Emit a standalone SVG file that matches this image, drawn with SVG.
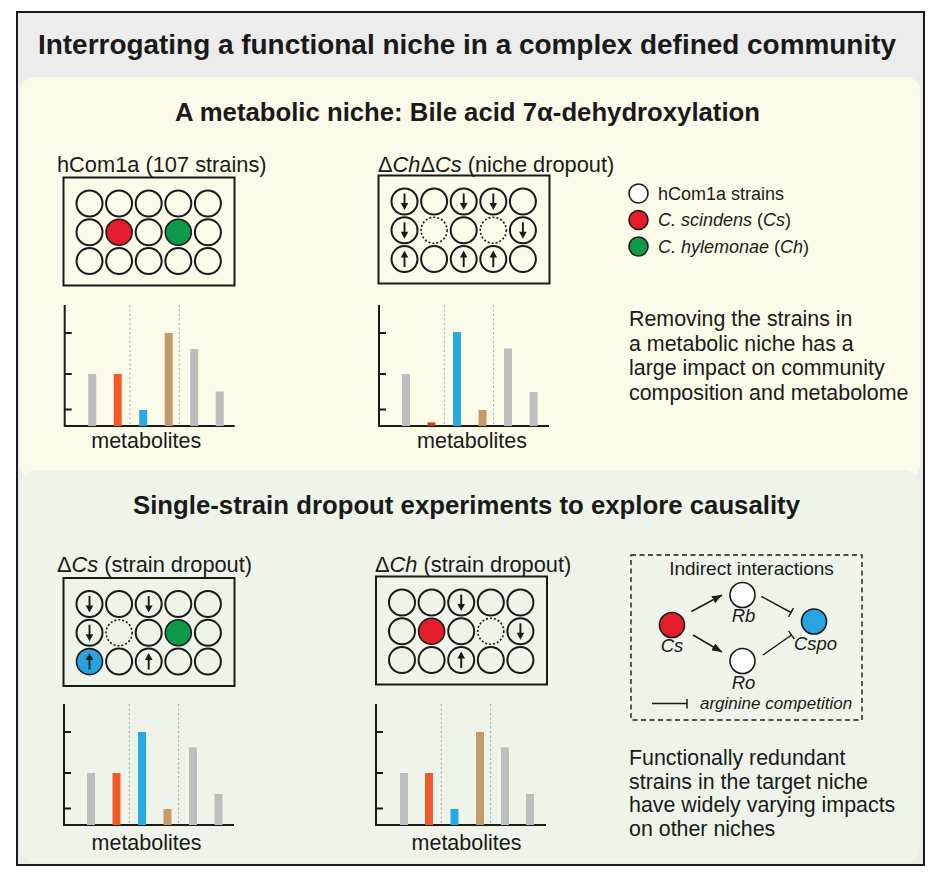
<svg xmlns="http://www.w3.org/2000/svg" width="940" height="884" viewBox="0 0 940 884">
<style>
text{font-family:"Liberation Sans",Arial,sans-serif;fill:#1a1a1a}
.ttl{font-family:"Liberation Sans Narrow","Liberation Sans",Arial,sans-serif;font-weight:bold;text-anchor:middle}
.lab{font-size:21.8px}
.body{font-size:21.4px}
.leg{font-size:18px}
.met{font-size:21.5px;text-anchor:middle}
.plate{fill:none;stroke:#1a1a1a;stroke-width:2}
.c{fill:none;stroke:#1a1a1a;stroke-width:2}
.dot{fill:none;stroke:#1a1a1a;stroke-width:1.6;stroke-dasharray:2 2}
.axis{stroke:#1a1a1a;stroke-width:2;fill:none}
.grid{stroke:#a9a9a9;stroke-width:1;stroke-dasharray:2 2.5}
.gy{fill:#bdbdbf}.or{fill:#f15a29}.bl{fill:#27a9e1}.br{fill:#c4996c}.dr{fill:#c8371f}
.red{fill:#e31d2b;stroke:#1a1a1a;stroke-width:1.6}
.grn{fill:#0f9a4a;stroke:#1a1a1a;stroke-width:1.6}
.blu{fill:#27a4df;stroke:#1a1a1a;stroke-width:1.6}
.wht{fill:#ffffff;stroke:#1a1a1a;stroke-width:1.6}
.edge{stroke:#1a1a1a;stroke-width:1.5;fill:none}
</style>
<defs>
<g id="dn"><line x1="0" y1="-8" x2="0" y2="3" stroke="#1a1a1a" stroke-width="1.9"/><path d="M-3.8,1.5 L3.8,1.5 L0,8.5 Z" fill="#1a1a1a"/></g>
<g id="up"><line x1="0" y1="8" x2="0" y2="-3" stroke="#1a1a1a" stroke-width="1.9"/><path d="M-3.8,-1.5 L3.8,-1.5 L0,-8.5 Z" fill="#1a1a1a"/></g>
<marker id="arr" viewBox="0 0 10 8" refX="10" refY="4" markerWidth="10" markerHeight="8" markerUnits="userSpaceOnUse" orient="auto"><path d="M0,0 L10,4 L0,8 Z" fill="#1a1a1a"/></marker>
<marker id="tee" viewBox="0 0 2 10" refX="1" refY="5" markerWidth="2" markerHeight="10" markerUnits="userSpaceOnUse" orient="auto"><path d="M1,0 V10" stroke="#1a1a1a" stroke-width="1.5"/></marker>
<g id="axes">
<path class="axis" d="M0,-121 V0 H170"/>
<path class="axis" d="M0,-93 H7 M0,-52 H7 M0,-16.5 H7"/>
<line class="grid" x1="65.3" y1="-121" x2="65.3" y2="0"/>
<line class="grid" x1="114.6" y1="-121" x2="114.6" y2="0"/>
</g>
<g id="plate">
<rect class="plate" x="0" y="0" width="171" height="108"/>
</g>
</defs>

<!-- backgrounds -->
<rect x="17" y="12" width="907" height="853" fill="#ececed"/>
<rect x="20" y="77" width="900" height="402" rx="14" fill="#fcfae9"/>
<rect x="20" y="470" width="900" height="393" rx="16" fill="#eef4e9"/>
<rect x="17" y="12" width="907" height="853" fill="none" stroke="#1a1a1a" stroke-width="2"/>

<text class="ttl" x="467" y="54" font-size="27.8" textLength="858" lengthAdjust="spacingAndGlyphs">Interrogating a functional niche in a complex defined community</text>
<text class="ttl" x="467.5" y="121" font-size="26" textLength="585" lengthAdjust="spacingAndGlyphs">A metabolic niche: Bile acid 7α-dehydroxylation</text>
<text class="ttl" x="466.5" y="514" font-size="26" textLength="667" lengthAdjust="spacingAndGlyphs">Single-strain dropout experiments to explore causality</text>

<!-- Panel 1: hCom1a -->
<g id="hcom1a">
<text class="lab" x="57" y="172">hCom1a (107 strains)</text>
<g transform="translate(63.5,177.5)">
<use href="#plate"/>
<g transform="translate(26,26)">
<circle class="c" cx="0" cy="0" r="13"/><circle class="c" cx="29.6" cy="0" r="13"/><circle class="c" cx="59.2" cy="0" r="13"/><circle class="c" cx="88.8" cy="0" r="13"/><circle class="c" cx="118.4" cy="0" r="13"/>
<circle class="c" cx="0" cy="28.8" r="13"/><circle class="red" cx="29.6" cy="28.8" r="13"/><circle class="c" cx="59.2" cy="28.8" r="13"/><circle class="grn" cx="88.8" cy="28.8" r="13"/><circle class="c" cx="118.4" cy="28.8" r="13"/>
<circle class="c" cx="0" cy="57.6" r="13"/><circle class="c" cx="29.6" cy="57.6" r="13"/><circle class="c" cx="59.2" cy="57.6" r="13"/><circle class="c" cx="88.8" cy="57.6" r="13"/><circle class="c" cx="118.4" cy="57.6" r="13"/>
</g>
</g>
</g>
<g id="chart1" transform="translate(64.7,426)">
<use href="#axes"/>
<rect class="gy" x="23.5" y="-52" width="8" height="52"/>
<rect class="or" x="49" y="-52" width="8" height="52"/>
<rect class="bl" x="74.5" y="-16" width="8" height="16"/>
<rect class="br" x="100" y="-93" width="8" height="93"/>
<rect class="gy" x="125.5" y="-77" width="8" height="77"/>
<rect class="gy" x="151" y="-34.5" width="8" height="34.5"/>
<text class="met" x="81.5" y="22">metabolites</text>
</g>

<!-- Panel 2: niche dropout -->
<g id="niche-dropout">
<text class="lab" x="378" y="172">Δ<tspan font-style="italic">Ch</tspan>Δ<tspan font-style="italic">Cs</tspan> (niche dropout)</text>
<g transform="translate(378.5,175.5)">
<use href="#plate"/>
<g transform="translate(26,26)">
<circle class="c" cx="0" cy="0" r="13"/><circle class="c" cx="29.6" cy="0" r="13"/><circle class="c" cx="59.2" cy="0" r="13"/><circle class="c" cx="88.8" cy="0" r="13"/><circle class="c" cx="118.4" cy="0" r="13"/>
<circle class="c" cx="0" cy="28.8" r="13"/><circle class="dot" cx="29.6" cy="28.8" r="13"/><circle class="c" cx="59.2" cy="28.8" r="13"/><circle class="dot" cx="88.8" cy="28.8" r="13"/><circle class="c" cx="118.4" cy="28.8" r="13"/>
<circle class="c" cx="0" cy="57.6" r="13"/><circle class="c" cx="29.6" cy="57.6" r="13"/><circle class="c" cx="59.2" cy="57.6" r="13"/><circle class="c" cx="88.8" cy="57.6" r="13"/><circle class="c" cx="118.4" cy="57.6" r="13"/>
<use href="#dn" x="0" y="0"/><use href="#dn" x="59.2" y="0"/><use href="#dn" x="88.8" y="0"/>
<use href="#dn" x="0" y="28.8"/><use href="#dn" x="118.4" y="28.8"/>
<use href="#up" x="0" y="57.6"/><use href="#up" x="59.2" y="57.6"/><use href="#up" x="88.8" y="57.6"/>
</g>
</g>
</g>
<g id="chart2" transform="translate(379,426)">
<use href="#axes"/>
<rect class="gy" x="23" y="-52" width="8" height="52"/>
<rect class="dr" x="48.5" y="-3.5" width="8" height="3.5"/>
<rect class="bl" x="74" y="-94" width="8" height="94"/>
<rect class="br" x="99.5" y="-16" width="8" height="16"/>
<rect class="gy" x="125" y="-77.5" width="8" height="77.5"/>
<rect class="gy" x="150.5" y="-34" width="8" height="34"/>
<text class="met" x="93" y="22">metabolites</text>
</g>

<!-- Legend -->
<g id="legend">
<circle class="wht" cx="638.5" cy="193.5" r="9.5"/>
<text class="leg" x="658" y="199.5">hCom1a strains</text>
<circle class="red" cx="638.5" cy="220" r="9.5"/>
<text class="leg" x="658" y="226"><tspan font-style="italic">C. scindens</tspan> (<tspan font-style="italic">Cs</tspan>)</text>
<circle class="grn" cx="638.5" cy="246.5" r="9.5"/>
<text class="leg" x="658" y="252.5"><tspan font-style="italic">C. hylemonae</tspan> (<tspan font-style="italic">Ch</tspan>)</text>
</g>

<g id="note1">
<text class="body" x="629" y="326">Removing the strains in</text>
<text class="body" x="629" y="350.5">a metabolic niche has a</text>
<text class="body" x="629" y="375">large impact on community</text>
<text class="body" x="629" y="399.5">composition and metabolome</text>
</g>

<!-- Panel 3: ΔCs -->
<g id="cs-dropout">
<text class="lab" x="57" y="572">Δ<tspan font-style="italic">Cs</tspan> (strain dropout)</text>
<g transform="translate(63.5,578)">
<use href="#plate"/>
<g transform="translate(26,26)">
<circle class="c" cx="0" cy="0" r="13"/><circle class="c" cx="29.6" cy="0" r="13"/><circle class="c" cx="59.2" cy="0" r="13"/><circle class="c" cx="88.8" cy="0" r="13"/><circle class="c" cx="118.4" cy="0" r="13"/>
<circle class="c" cx="0" cy="28.8" r="13"/><circle class="dot" cx="29.6" cy="28.8" r="13"/><circle class="c" cx="59.2" cy="28.8" r="13"/><circle class="grn" cx="88.8" cy="28.8" r="13"/><circle class="c" cx="118.4" cy="28.8" r="13"/>
<circle class="blu" cx="0" cy="57.6" r="13"/><circle class="c" cx="29.6" cy="57.6" r="13"/><circle class="c" cx="59.2" cy="57.6" r="13"/><circle class="c" cx="88.8" cy="57.6" r="13"/><circle class="c" cx="118.4" cy="57.6" r="13"/>
<use href="#dn" x="0" y="0"/><use href="#dn" x="59.2" y="0"/>
<use href="#dn" x="0" y="28.8"/>
<use href="#up" x="0" y="57.6"/><use href="#up" x="59.2" y="57.6"/>
</g>
</g>
</g>
<g id="chart3" transform="translate(64,825)">
<use href="#axes"/>
<rect class="gy" x="23" y="-52" width="8" height="52"/>
<rect class="or" x="48.5" y="-52" width="8" height="52"/>
<rect class="bl" x="74" y="-93" width="8" height="93"/>
<rect class="br" x="99.5" y="-16" width="8" height="16"/>
<rect class="gy" x="125" y="-77.5" width="8" height="77.5"/>
<rect class="gy" x="150.5" y="-31" width="8" height="31"/>
<text class="met" x="82.5" y="25">metabolites</text>
</g>

<!-- Panel 4: ΔCh -->
<g id="ch-dropout">
<text class="lab" x="375" y="572">Δ<tspan font-style="italic">Ch</tspan> (strain dropout)</text>
<g transform="translate(376,576.5)">
<use href="#plate"/>
<g transform="translate(26,26)">
<circle class="c" cx="0" cy="0" r="13"/><circle class="c" cx="29.6" cy="0" r="13"/><circle class="c" cx="59.2" cy="0" r="13"/><circle class="c" cx="88.8" cy="0" r="13"/><circle class="c" cx="118.4" cy="0" r="13"/>
<circle class="c" cx="0" cy="28.8" r="13"/><circle class="red" cx="29.6" cy="28.8" r="13"/><circle class="c" cx="59.2" cy="28.8" r="13"/><circle class="dot" cx="88.8" cy="28.8" r="13"/><circle class="c" cx="118.4" cy="28.8" r="13"/>
<circle class="c" cx="0" cy="57.6" r="13"/><circle class="c" cx="29.6" cy="57.6" r="13"/><circle class="c" cx="59.2" cy="57.6" r="13"/><circle class="c" cx="88.8" cy="57.6" r="13"/><circle class="c" cx="118.4" cy="57.6" r="13"/>
<use href="#dn" x="59.2" y="0"/>
<use href="#dn" x="118.4" y="28.8"/>
<use href="#up" x="59.2" y="57.6"/>
</g>
</g>
</g>
<g id="chart4" transform="translate(376,825)">
<use href="#axes"/>
<rect class="gy" x="24" y="-52" width="8" height="52"/>
<rect class="or" x="49" y="-52" width="8" height="52"/>
<rect class="bl" x="74.5" y="-16" width="8" height="16"/>
<rect class="br" x="100" y="-93" width="8" height="93"/>
<rect class="gy" x="125" y="-77.5" width="8" height="77.5"/>
<rect class="gy" x="150" y="-31" width="8" height="31"/>
<text class="met" x="90.5" y="25">metabolites</text>
</g>

<!-- Indirect interactions -->
<g id="interactions-box">
<rect x="631" y="555" width="231" height="165" fill="none" stroke="#1a1a1a" stroke-width="1.4" stroke-dasharray="5 3.5"/>
<text x="751.5" y="575" font-size="19" text-anchor="middle">Indirect interactions</text>
</g>
<g id="node-cs"><circle class="red" cx="672" cy="625" r="12.5"/><text x="672" y="652" font-size="18.5" font-style="italic" text-anchor="middle">Cs</text></g>
<g id="node-rb"><circle class="wht" cx="742.5" cy="595" r="12.5"/><text x="743.5" y="622" font-size="18.5" font-style="italic" text-anchor="middle">Rb</text></g>
<g id="node-ro"><circle class="wht" cx="742.5" cy="661" r="12.5"/><text x="743.5" y="688.5" font-size="18.5" font-style="italic" text-anchor="middle">Ro</text></g>
<g id="node-cspo"><circle class="blu" cx="814" cy="621.5" r="12.5"/><text x="815.5" y="650" font-size="18.5" font-style="italic" text-anchor="middle">Cspo</text></g>
<g id="connectors">
<line class="edge" x1="691.5" y1="611.5" x2="722" y2="595" marker-end="url(#arr)"/>
<line class="edge" x1="693" y1="635" x2="722" y2="652" marker-end="url(#arr)"/>
<line class="edge" x1="761.5" y1="596.5" x2="791" y2="612.5" marker-end="url(#tee)"/>
<line class="edge" x1="763" y1="655" x2="791.5" y2="635" marker-end="url(#tee)"/>
<line class="edge" x1="652" y1="703.5" x2="687" y2="703.5" marker-end="url(#tee)"/>
</g>
<text x="700" y="709" font-size="17" font-style="italic">arginine competition</text>

<g id="note2">
<text class="body" x="629" y="765">Functionally redundant</text>
<text class="body" x="629" y="788.5">strains in the target niche</text>
<text class="body" x="629" y="812">have widely varying impacts</text>
<text class="body" x="629" y="835.5">on other niches</text>
</g>
</svg>
